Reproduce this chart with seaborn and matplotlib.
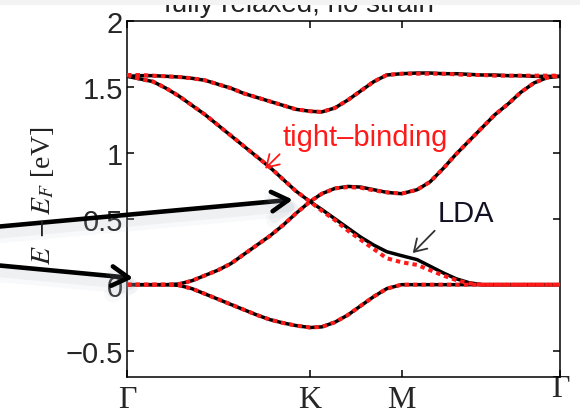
import matplotlib
matplotlib.use("Agg")
import matplotlib.pyplot as plt
import matplotlib.patheffects as pe
import matplotlib.transforms as mtransforms
from matplotlib.patches import Rectangle
import seaborn as sns

# k-path Γ-K-M-Γ (normalised path length)
K_PT = 0.4226
M_PT = 0.634
k = [0.0, 0.03, 0.06, 0.09, 0.12, 0.15, 0.18, 0.21, 0.24, 0.27, 0.30, 0.33,
     0.36, 0.39, K_PT, 0.45, 0.48, 0.51, 0.54, 0.57, 0.60, M_PT, 0.67, 0.70,
     0.73, 0.76, 0.79, 0.82, 0.85, 0.88, 0.91, 0.94, 0.97, 1.0]

# LDA bands (eV)
lda_band1 = [1.58, 1.585, 1.585, 1.58, 1.575, 1.565, 1.55, 1.52, 1.49, 1.45, 1.42, 1.39,
             1.36, 1.33, 1.315, 1.31, 1.34, 1.40, 1.47, 1.54, 1.59, 1.60, 1.605, 1.605,
             1.60, 1.60, 1.595, 1.59, 1.59, 1.585, 1.585, 1.58, 1.58, 1.58]
lda_band2 = [1.58, 1.56, 1.54, 1.49, 1.43, 1.36, 1.29, 1.21, 1.13, 1.05, 0.97, 0.89,
             0.80, 0.71, 0.63, 0.57, 0.50, 0.43, 0.36, 0.30, 0.25, 0.22, 0.19, 0.14,
             0.09, 0.045, 0.015, 0.0, 0.0, 0.0, 0.0, 0.0, 0.0, 0.0]
lda_band3 = [0.0, 0.0, 0.0, 0.0, 0.005, 0.03, 0.07, 0.11, 0.16, 0.23, 0.30, 0.37,
             0.45, 0.54, 0.63, 0.69, 0.73, 0.745, 0.74, 0.72, 0.70, 0.69, 0.72, 0.78,
             0.88, 0.99, 1.09, 1.19, 1.29, 1.37, 1.46, 1.53, 1.57, 1.58]
lda_band4 = [0.0, 0.0, 0.0, 0.0, -0.005, -0.03, -0.07, -0.11, -0.15, -0.19, -0.23, -0.265,
             -0.29, -0.31, -0.325, -0.32, -0.285, -0.23, -0.16, -0.09, -0.03, 0.0, 0.0, 0.0,
             0.0, 0.0, 0.0, 0.0, 0.0, 0.0, 0.0, 0.0, 0.0, 0.0]

# tight-binding bands (eV)
tb_band1 = [1.59, 1.59, 1.585, 1.58, 1.575, 1.565, 1.55, 1.52, 1.49, 1.45, 1.42, 1.39,
            1.36, 1.33, 1.315, 1.31, 1.34, 1.40, 1.47, 1.54, 1.59, 1.60, 1.60, 1.60,
            1.60, 1.595, 1.59, 1.59, 1.585, 1.585, 1.585, 1.585, 1.585, 1.585]
tb_band2 = [1.59, 1.56, 1.54, 1.49, 1.43, 1.36, 1.29, 1.21, 1.13, 1.05, 0.97, 0.89,
            0.80, 0.71, 0.63, 0.56, 0.49, 0.41, 0.34, 0.27, 0.20, 0.17, 0.15, 0.11,
            0.07, 0.035, 0.01, 0.0, 0.0, 0.0, 0.0, 0.0, 0.0, 0.0]
tb_band3 = [0.0, 0.0, 0.0, 0.0, 0.005, 0.03, 0.07, 0.11, 0.16, 0.23, 0.30, 0.37,
            0.45, 0.54, 0.63, 0.69, 0.73, 0.74, 0.735, 0.715, 0.70, 0.69, 0.72, 0.78,
            0.88, 0.99, 1.09, 1.19, 1.29, 1.37, 1.46, 1.53, 1.57, 1.585]
tb_band4 = [0.0, 0.0, 0.0, 0.0, -0.005, -0.03, -0.07, -0.11, -0.15, -0.19, -0.23, -0.265,
            -0.29, -0.31, -0.325, -0.32, -0.285, -0.23, -0.16, -0.09, -0.03, 0.0, 0.0, 0.0,
            0.0, 0.0, 0.0, 0.0, 0.0, 0.0, 0.0, 0.0, 0.0, 0.0]

xtick_pos = [0.0, K_PT, M_PT, 1.0]
xtick_labels = ["Γ", "K", "M", "Γ"]
ytick_pos = [-0.5, 0, 0.5, 1, 1.5, 2]
ytick_labels = ["\u22120.5", "0", "0.5", "1", "1.5", "2"]

sns.set_style("ticks")
plt.rcParams["font.family"] = ["Liberation Sans", "DejaVu Sans"]
plt.rcParams["mathtext.fontset"] = "stix"

fig = plt.figure(figsize=(5.8, 4.14), dpi=100)
ax = fig.add_axes([0.219, 0.087, 0.7465, 0.860])

for band in (lda_band1, lda_band2, lda_band3, lda_band4):
    sns.lineplot(x=k, y=band, ax=ax, color="black", linewidth=2.5,
                 estimator=None, sort=False, zorder=3)
for band in (tb_band1, tb_band2, tb_band3, tb_band4):
    sns.lineplot(x=k, y=band, ax=ax, color="#ff1a1a", linewidth=2.9,
                 linestyle=(0, (1.1, 1.0)), dash_capstyle="butt",
                 estimator=None, sort=False, zorder=4)

ax.set_xlim(0, 1)
ax.set_ylim(-0.7, 2)
ax.set_xticks(xtick_pos)
ax.set_xticklabels(xtick_labels, family=["Liberation Serif", "DejaVu Serif"], fontsize=23)
ax.set_yticks(ytick_pos)
ax.set_yticklabels(ytick_labels, fontsize=21)
ax.set_xlabel("")
ax.set_ylabel("")
ax.tick_params(axis="both", direction="in", top=True, right=True,
               length=5, width=1.1, color="black")
ax.tick_params(axis="y", pad=3)
ax.tick_params(axis="x", pad=6)
for sp in ax.spines.values():
    sp.set_visible(True)
    sp.set_linewidth(1.1)
    sp.set_color("black")

# nudge the closing Γ label upward
last = ax.get_xticklabels()[-1]
last.set_transform(last.get_transform() + mtransforms.ScaledTranslation(0, 8 / 72, fig.dpi_scale_trans))

fig.text(0.074, 0.527, r"$E\ -E_F$ [eV]", rotation=90, ha="center", va="center",
         fontsize=20, family=["Liberation Serif", "DejaVu Serif"], color="#222222")

fig.text(0.516, 1 - 12 / 414, "fully relaxed, no strain", ha="center", va="baseline",
         fontsize=20, color="#222222")
fig.patches.append(Rectangle((0, 1 - 6 / 414), 1, 6 / 414, transform=fig.transFigure,
                             facecolor="#f3f3f3", edgecolor="none", zorder=10))

# curve labels
ax.annotate("tight\u2013binding", xy=(0.319, 0.88), xytext=(0.36, 1.12),
            color="#ff1a1a", fontsize=21, va="center", ha="left",
            arrowprops=dict(arrowstyle="->,head_length=0.4,head_width=0.25",
                            color="#ff1a1a", lw=1.3, shrinkA=0, shrinkB=0,
                            relpos=(0.0, 0.0)))
ax.annotate("LDA", xy=(0.66, 0.24), xytext=(0.718, 0.54),
            color="#111122", fontsize=21, va="center", ha="left",
            arrowprops=dict(arrowstyle="->,head_length=0.4,head_width=0.25",
                            color="#333333", lw=1.3, shrinkA=0, shrinkB=0,
                            relpos=(0.0, 0.0)))

# pointer arrows from the left margin, with a soft drop shadow
shadow = [pe.Stroke(linewidth=12, foreground="#a8b2c0", alpha=0.07, offset=(1, -6)),
          pe.Stroke(linewidth=7, foreground="#a8b2c0", alpha=0.12, offset=(1, -5)),
          pe.Normal()]
for tip, tail in (((0.383, 0.645), (-0.01, 1 - 228 / 414)),
                  ((0.014, 0.05), (-0.01, 1 - 266 / 414))):
    ax.annotate("", xy=tip, xycoords="data", xytext=tail, textcoords="figure fraction",
                annotation_clip=False,
                arrowprops=dict(arrowstyle="->,head_length=0.6,head_width=0.35",
                                color="black", lw=3.3, shrinkA=0, shrinkB=0,
                                mutation_scale=20, path_effects=shadow, zorder=6))

fig.savefig("out.png", dpi=100)
